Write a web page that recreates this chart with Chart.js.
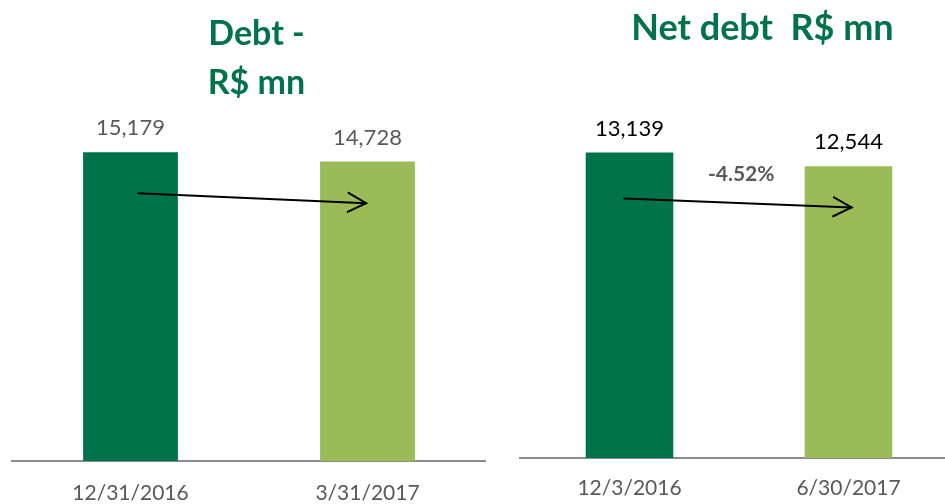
<!DOCTYPE html>
<html><head><meta charset="utf-8">
<script src="https://cdn.jsdelivr.net/npm/chart.js@4.4.1/dist/chart.umd.min.js"></script>
<style>
html,body{margin:0;padding:0;background:#fff;overflow:hidden;width:945px;height:504px;}
#wrap{position:relative;width:945px;height:504px;overflow:hidden;}
#c1{position:absolute;left:0;top:0;}
#c2{position:absolute;left:472px;top:0;}
</style></head><body>
<div id="wrap"><canvas id="c1" width="486" height="526"></canvas><canvas id="c2" width="490" height="519"></canvas></div>
<script>
// ---- data ----
const debtTitle = ['Debt -', 'R$ mn'];
const debtCategories = ['12/31/2016', '3/31/2017'];
const debtValues = [15179, 14728];

const netDebtTitle = ['Net debt  R$ mn'];
const netDebtCategories = ['12/3/2016', '6/30/2017'];
const netDebtValues = [13139, 12544];
const netDebtChange = '-4.52%';

// ---- styles ----
const GREEN = '#00734B', LIGHT = '#9BBB59', GRAY = '#595959';
const FONT = 'Lato, "Open Sans", sans-serif';
const fmt = v => v.toLocaleString('en-US');

function drawArrow(ctx, x1, y1, x2, y2) {
  ctx.save();
  ctx.strokeStyle = '#000'; ctx.lineWidth = 2; ctx.lineCap = 'round';
  ctx.beginPath(); ctx.moveTo(x1, y1); ctx.lineTo(x2, y2); ctx.stroke();
  const a = Math.atan2(y2 - y1, x2 - x1), L = 18, W = 9.5;
  const bx = x2 - L * Math.cos(a), by = y2 - L * Math.sin(a);
  const px = -Math.sin(a) * W, py = Math.cos(a) * W;
  ctx.beginPath();
  ctx.moveTo(bx + px, by + py); ctx.lineTo(x2, y2); ctx.lineTo(bx - px, by - py);
  ctx.stroke();
  ctx.restore();
}

function overlay(cfg) {
  return {
    id: 'overlay',
    afterDatasetsDraw(chart) {
      const ctx = chart.ctx, xs = chart.scales.x, ys = chart.scales.y;
      const meta = chart.getDatasetMeta(0);
      const vals = chart.data.datasets[0].data;
      ctx.save();
      ctx.textAlign = 'center'; ctx.textBaseline = 'middle';
      // value labels
      ctx.font = '22px ' + FONT; ctx.fillStyle = cfg.labelColor;
      meta.data.forEach((bar, i) => ctx.fillText(fmt(vals[i]), bar.x, bar.y - 24));
      // arrow
      const ar = cfg.arrow;
      drawArrow(ctx, xs.getPixelForValue(ar.x1), ys.getPixelForValue(ar.y1),
                     xs.getPixelForValue(ar.x2), ys.getPixelForValue(ar.y2));
      // change note
      if (cfg.note) {
        ctx.font = 'bold 21px ' + FONT; ctx.fillStyle = GRAY;
        ctx.fillText(cfg.note.text, xs.getPixelForValue(cfg.note.x), ys.getPixelForValue(cfg.note.y));
      }
      // title
      ctx.font = 'bold ' + cfg.titleSize + 'px ' + FONT; ctx.fillStyle = GREEN;
      cfg.title.forEach((t, i) => ctx.fillText(t, cfg.titleX, cfg.titleY + i * 49));
      ctx.restore();
    }
  };
}

function makeChart(id, cats, vals, pad, max, tickPad, cfg) {
  return new Chart(document.getElementById(id), {
    type: 'bar',
    data: { labels: cats, datasets: [{ data: vals, backgroundColor: [GREEN, LIGHT],
      categoryPercentage: 1, barPercentage: 0.4 }] },
    options: {
      responsive: false, animation: false,
      layout: { padding: pad },
      plugins: { legend: { display: false }, tooltip: { enabled: false }, title: { display: false } },
      scales: {
        x: { grid: { display: false, drawTicks: false },
             border: { display: true, color: '#8C8C8C', width: 2 },
             ticks: { color: GRAY, padding: tickPad, font: { family: FONT, size: 21, lineHeight: 1 } } },
        y: { display: false, min: 0, max: max }
      }
    },
    plugins: [overlay(cfg)]
  });
}

makeChart('c1', debtCategories, debtValues, { left: 12, right: 0, top: 95, bottom: 0 }, 18000, 22, {
  labelColor: GRAY, title: debtTitle, titleSize: 34, titleX: 256.5, titleY: 34.5,
  arrow: { x1: 0.032, y1: 13173, x2: 0.994, y2: 12682 }
});
makeChart('c2', netDebtCategories, netDebtValues, { left: 48, right: 4, top: 86, bottom: 0 }, 16000, 20, {
  labelColor: '#000', title: netDebtTitle, titleSize: 36, titleX: 290.5, titleY: 28,
  arrow: { x1: -0.024, y1: 11162, x2: 1.014, y2: 10775 },
  note: { text: netDebtChange, x: 0.51, y: 12190 }
});
</script>
</body></html>
